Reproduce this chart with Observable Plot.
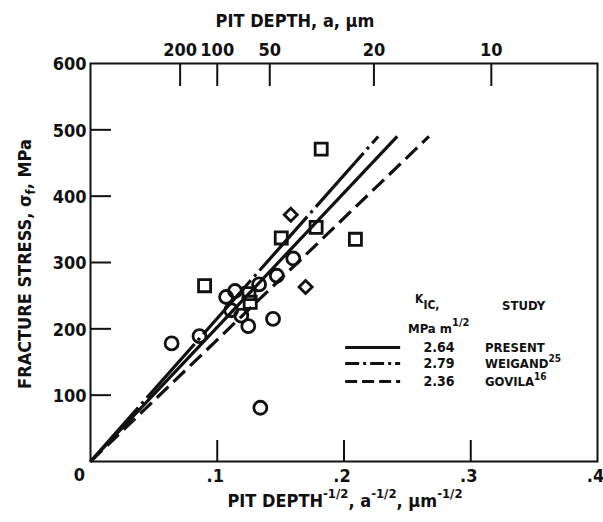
<!DOCTYPE html>
<html><head><meta charset="utf-8">
<script src="https://cdn.jsdelivr.net/npm/d3@7"></script>
<script src="https://cdn.jsdelivr.net/npm/@observablehq/plot@0.6"></script>
<style>
html,body{margin:0;padding:0;background:#fff;}
#chart svg{display:block;}
</style></head><body><div id="chart"></div>
<script>
const FONT = '"Liberation Sans Narrow","DejaVu Sans Condensed","Arial Narrow",sans-serif';
const INK = "#111";

// ---- data ----
const studies = ["PRESENT", "WEIGAND", "GOVILA"];
const studyRefs = ["", "25", "16"];
const kicValues = ["2.64", "2.79", "2.36"];
const fitEndX = [0.242, 0.227, 0.267];
const fitEndY = [490, 490, 490];

const circleX = [0.064, 0.086, 0.107, 0.114, 0.111, 0.119, 0.1245, 0.133, 0.144, 0.134, 0.147, 0.160];
const circleY = [178, 189, 248, 257, 228, 220, 204, 267, 215, 81, 280, 306];
const squareX = [0.090, 0.125, 0.126, 0.1505, 0.178, 0.182, 0.209];
const squareY = [265, 253, 240, 337, 353, 471, 335];
const diamondX = [0.158, 0.1697];
const diamondY = [372, 263];

const yTickValues = [100, 200, 300, 400, 500];
const yTickLabels = [100, 200, 300, 400, 500, 600];
const xTickValues = [0.1, 0.2, 0.3];
const xTickLabelValues = [0.1, 0.2, 0.3, 0.4];
const xTickLabels = [".1", ".2", ".3", ".4"];
const pitDepthTicks = [200, 100, 50, 20, 10];

// ---- derived tables ----
const fits = studies.flatMap((s, i) => [
  {study: s, x: 0, y: 0},
  {study: s, x: fitEndX[i], y: fitEndY[i]}
]);
const pts = (xs, ys) => xs.map((x, i) => ({x, y: ys[i]}));
const circles = pts(circleX, circleY);
const squares = pts(squareX, squareY);
const diamonds = pts(diamondX, diamondY);

const dashFor = {PRESENT: null, WEIGAND: "72,5,3,5", GOVILA: "16,7"};
const legendDash = {PRESENT: null, WEIGAND: "14,4,3,4", GOVILA: "12,5"};

const W = 603, H = 522, ML = 90, MR = 6, MT = 63, MB = 61;
const FW = W - ML - MR, FH = H - MT - MB;

// legend layout (data coordinates)
const legX1 = 0.2013, legX2 = 0.2447;
const legRowY = [171.9, 147.8, 120.7];

const marks = [
  Plot.frame({stroke: INK, strokeWidth: 2}),
  // inward ticks
  Plot.ruleY(yTickValues, {stroke: INK, strokeWidth: 2, insetRight: FW - 21}),
  Plot.ruleX(xTickValues, {stroke: INK, strokeWidth: 2, insetTop: FH - 21}),
  Plot.ruleX(pitDepthTicks, {x: a => 1 / Math.sqrt(a), stroke: INK, strokeWidth: 2, insetBottom: FH - 23}),
  // tick labels
  Plot.text(yTickLabels, {x: 0, y: d => d, text: d => String(d), textAnchor: "end", dx: -4, dy: 1, fontSize: 18, fontWeight: "bold", fill: INK}),
  Plot.text(xTickLabels, {x: (d, i) => xTickLabelValues[i], y: 0, text: d => d, dy: 15, dx: -2, fontSize: 18, fontWeight: "bold", fill: INK}),
  Plot.text(["0"], {x: 0, y: 0, text: d => d, dx: -11, dy: 14, fontSize: 18, fontWeight: "bold", fill: INK}),
  Plot.text(pitDepthTicks, {x: a => 1 / Math.sqrt(a), y: 600, text: d => String(d), dy: -13, fontSize: 18, fontWeight: "bold", fill: INK}),
  // fit lines
  ...studies.map(s => Plot.line(fits.filter(d => d.study === s), {
    x: "x", y: "y", stroke: INK, strokeWidth: 3.2, strokeDasharray: dashFor[s], strokeLinecap: "butt"
  })),
  // data points
  Plot.dot(circles, {x: "x", y: "y", symbol: "circle", r: 6.5, stroke: INK, strokeWidth: 2.8, fill: "none"}),
  Plot.dot(squares, {x: "x", y: "y", symbol: "square", r: 6.8, stroke: INK, strokeWidth: 2.8, fill: "none"}),
  Plot.dot(diamonds, {x: "x", y: "y", symbol: "diamond2", r: 5.9, stroke: INK, strokeWidth: 2.8, fill: "none"}),
  // legend samples
  ...studies.map((s, i) => Plot.ruleY([legRowY[i]], {x1: legX1, x2: legX2, stroke: INK, strokeWidth: 3, strokeDasharray: legendDash[s]}))
];

const chart = Plot.plot({
  width: W, height: H,
  marginLeft: ML, marginRight: MR, marginTop: MT, marginBottom: MB,
  x: {domain: [0, 0.4], axis: null},
  y: {domain: [0, 600], axis: null},
  style: {fontFamily: FONT, fontSize: "18px", fontWeight: "bold", background: "#fff", color: INK},
  marks
});
document.getElementById("chart").appendChild(chart);

// ---- rich text (super/subscripts) ----
const svg = d3.select(chart);
const sy = chart.scale("y");
function rich(x, y, parts, {anchor = "start", size = 18, rotate = 0} = {}) {
  const t = svg.append("text")
    .attr("transform", `translate(${x},${y}) rotate(${rotate})`)
    .attr("text-anchor", anchor).attr("font-size", size)
    .attr("font-weight", "bold").attr("font-family", FONT).attr("fill", INK);
  let shift = 0;
  for (const p of parts) {
    const ts = t.append("tspan").text(p.t);
    const target = p.sup ? -p.sup : (p.sub ? p.sub : 0);
    ts.attr("dy", target - shift);
    shift = target;
    if (p.size) ts.attr("font-size", p.size);
  }
  return t;
}

// axis titles
rich(295, 27, [{t: "PIT DEPTH, a, \u03bcm"}], {anchor: "middle"});
rich(345, 507, [
  {t: "PIT DEPTH"}, {t: "-1/2", sup: 9, size: 13},
  {t: ", a"}, {t: "-1/2", sup: 9, size: 13},
  {t: ", \u03bcm"}, {t: "-1/2", sup: 9, size: 13}
], {anchor: "middle"});
rich(31, 264, [{t: "FRACTURE STRESS, \u03c3"}, {t: "f", sub: 4, size: 13}, {t: ", MPa"}], {anchor: "middle", rotate: -90});

// legend text
rich(415, 303, [{t: "K", size: 12}, {t: "IC,", sub: 6, size: 12}]);
rich(408, 333, [{t: "MPa m", size: 13}, {t: "1/2", sup: 7, size: 11}]);
rich(502, 310, [{t: "STUDY", size: 13}]);
studies.forEach((s, i) => {
  const py = sy.apply(legRowY[i]);
  rich(439, py + 5, [{t: kicValues[i], size: 14}], {anchor: "middle"});
  const parts = [{t: s, size: 13}];
  if (studyRefs[i]) parts.push({t: studyRefs[i], sup: 6, size: 10});
  rich(485, py + 5, parts);
});
</script></body></html>
